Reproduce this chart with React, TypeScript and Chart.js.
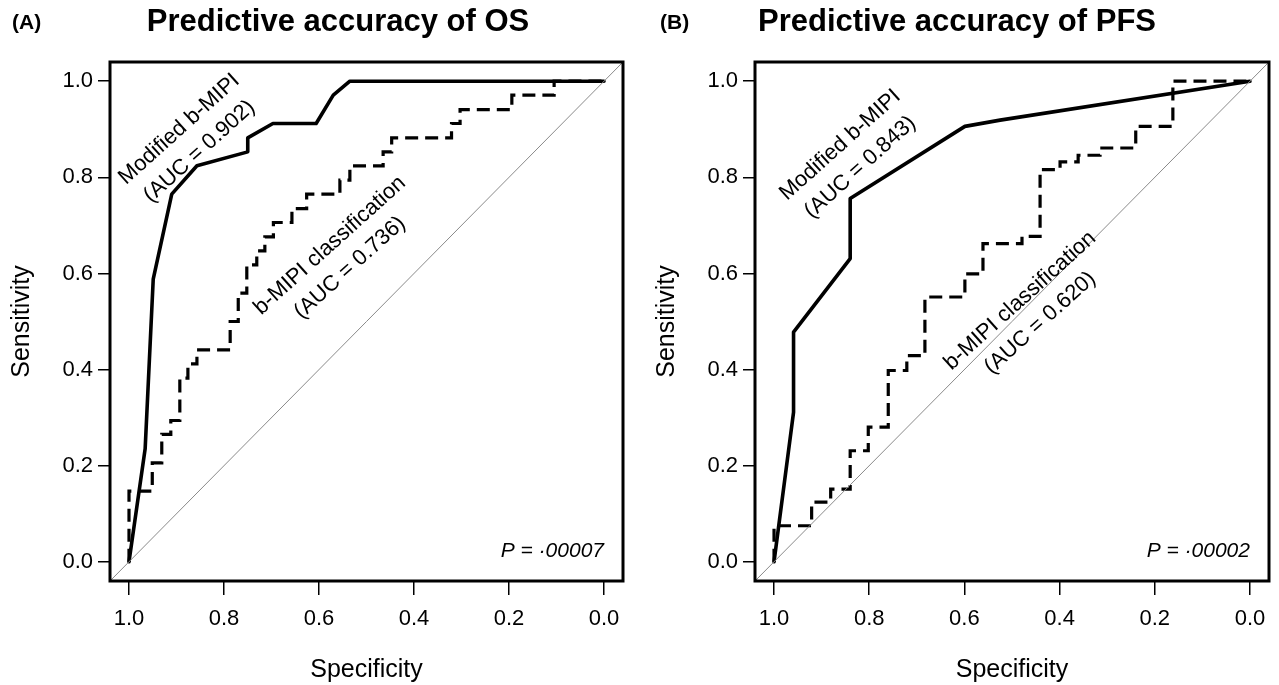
import React, { useEffect, useRef } from "react";
import { Chart, registerables } from "chart.js";

Chart.register(...registerables);

// ---- Axis ticks ----
const TICK_VALUES = [0, 0.2, 0.4, 0.6, 0.8, 1.0];
const TICK_LABELS = ["0.0", "0.2", "0.4", "0.6", "0.8", "1.0"];

// ---- Panel A: OS ----
const A_MOD_SPEC = [1.0, 0.966, 0.949, 0.910, 0.857, 0.750, 0.750, 0.697, 0.606, 0.570, 0.535, 0.0];
const A_MOD_SENS = [0.0, 0.235, 0.588, 0.765, 0.824, 0.853, 0.882, 0.912, 0.912, 0.971, 1.0, 1.0];

const A_CLS_SPEC = [
  1.0, 1.0, 0.951, 0.951, 0.931, 0.931, 0.912, 0.912, 0.893, 0.893, 0.876, 0.876,
  0.857, 0.857, 0.787, 0.787, 0.770, 0.770, 0.752, 0.752, 0.731, 0.731, 0.714, 0.714,
  0.696, 0.696, 0.657, 0.657, 0.626, 0.626, 0.556, 0.556, 0.535, 0.535, 0.465, 0.465,
  0.447, 0.447, 0.321, 0.321, 0.303, 0.303, 0.194, 0.194, 0.105, 0.105, 0.0,
];
const A_CLS_SENS = [
  0.0, 0.147, 0.147, 0.206, 0.206, 0.265, 0.265, 0.294, 0.294, 0.382, 0.382, 0.412,
  0.412, 0.441, 0.441, 0.500, 0.500, 0.559, 0.559, 0.618, 0.618, 0.647, 0.647, 0.676,
  0.676, 0.706, 0.706, 0.735, 0.735, 0.765, 0.765, 0.794, 0.794, 0.824, 0.824, 0.853,
  0.853, 0.882, 0.882, 0.912, 0.912, 0.941, 0.941, 0.971, 0.971, 1.0, 1.0,
];

// ---- Panel B: PFS ----
const B_MOD_SPEC = [1.0, 0.959, 0.959, 0.840, 0.840, 0.599, 0.525, 0.0];
const B_MOD_SENS = [0.0, 0.311, 0.478, 0.631, 0.756, 0.906, 0.919, 1.0];

const B_CLS_SPEC = [
  1.0, 1.0, 0.921, 0.921, 0.881, 0.881, 0.840, 0.840, 0.802, 0.802, 0.760, 0.760,
  0.721, 0.721, 0.683, 0.683, 0.599, 0.599, 0.561, 0.561, 0.479, 0.479, 0.441, 0.441,
  0.399, 0.399, 0.361, 0.361, 0.315, 0.315, 0.240, 0.240, 0.162, 0.162, 0.0,
];
const B_CLS_SENS = [
  0.0, 0.075, 0.075, 0.124, 0.124, 0.151, 0.151, 0.231, 0.231, 0.280, 0.280, 0.398,
  0.398, 0.429, 0.429, 0.551, 0.551, 0.599, 0.599, 0.662, 0.662, 0.677, 0.677, 0.816,
  0.816, 0.832, 0.832, 0.846, 0.846, 0.861, 0.861, 0.906, 0.906, 1.0, 1.0,
];

// chance line (corner to corner of the plot region)
const CHANCE_SPEC = [1.04, -0.04];
const CHANCE_SENS = [-0.04, 1.04];

const FONT = "'Liberation Sans', Arial, Helvetica, sans-serif";

type Label = { lines: string[]; spec: number; sens: number };
type Panel = {
  letter: string;
  title: string;
  modSpec: number[];
  modSens: number[];
  clsSpec: number[];
  clsSens: number[];
  modLabel: Label;
  clsLabel: Label;
  pText: string;
  // layout
  left: number;
  width: number;
  yAxisWidth: number;
  padRight: number;
  yTitlePad: number;
  titleX: number;
  letterX: number;
};

const PANELS: Panel[] = [
  {
    letter: "(A)",
    title: "Predictive accuracy of OS",
    modSpec: A_MOD_SPEC,
    modSens: A_MOD_SENS,
    clsSpec: A_CLS_SPEC,
    clsSens: A_CLS_SENS,
    modLabel: { lines: ["Modified b-MIPI", "(AUC = 0.902)"], spec: 0.873, sens: 0.877 },
    clsLabel: { lines: ["b-MIPI classification", "(AUC = 0.736)"], spec: 0.556, sens: 0.635 },
    pText: "P = \u00B700007",
    left: 0,
    width: 640,
    yAxisWidth: 110,
    padRight: 17,
    yTitlePad: 7,
    titleX: 338,
    letterX: 12,
  },
  {
    letter: "(B)",
    title: "Predictive accuracy of PFS",
    modSpec: B_MOD_SPEC,
    modSens: B_MOD_SENS,
    clsSpec: B_CLS_SPEC,
    clsSens: B_CLS_SENS,
    modLabel: { lines: ["Modified b-MIPI", "(AUC = 0.843)"], spec: 0.84, sens: 0.844 },
    clsLabel: { lines: ["b-MIPI classification", "(AUC = 0.620)"], spec: 0.462, sens: 0.52 },
    pText: "P = \u00B700002",
    left: 640,
    width: 639,
    yAxisWidth: 115,
    padRight: 10,
    yTitlePad: 12,
    titleX: 317,
    letterX: 20,
  },
];

const HEIGHT = 685;

function toPoints(xs: number[], ys: number[]) {
  return xs.map((x, i) => ({ x, y: ys[i] }));
}

function makeDecor(p: Panel) {
  return {
    id: "decor" + p.letter,
    afterDraw(chart: any) {
      const { ctx, chartArea: ca, scales } = chart;
      const x = scales.x;
      const y = scales.y;
      ctx.save();
      // frame
      ctx.lineWidth = 3;
      ctx.strokeStyle = "#000";
      ctx.strokeRect(ca.left, ca.top, ca.right - ca.left, ca.bottom - ca.top);
      // title and panel letter
      ctx.fillStyle = "#000";
      ctx.textBaseline = "alphabetic";
      ctx.font = `bold 31px ${FONT}`;
      ctx.textAlign = "center";
      ctx.fillText(p.title, p.titleX, 31);
      ctx.font = `bold 21px ${FONT}`;
      ctx.textAlign = "left";
      ctx.fillText(p.letter, p.letterX, 29);
      // curve labels
      for (const lab of [p.modLabel, p.clsLabel]) {
        const px = x.getPixelForValue(lab.spec);
        const py = y.getPixelForValue(lab.sens);
        ctx.save();
        ctx.translate(px, py);
        ctx.rotate((-42 * Math.PI) / 180);
        ctx.font = `22px ${FONT}`;
        ctx.textAlign = "center";
        ctx.textBaseline = "middle";
        const n = lab.lines.length;
        lab.lines.forEach((t, i) => ctx.fillText(t, 0, (i - (n - 1) / 2) * 30));
        ctx.restore();
      }
      // p value
      ctx.font = `italic 21px ${FONT}`;
      ctx.textAlign = "right";
      ctx.textBaseline = "alphabetic";
      ctx.fillText(p.pText, x.getPixelForValue(0), y.getPixelForValue(0.01));
      ctx.restore();
    },
  };
}

function PanelChart({ p }: { p: Panel }) {
  const ref = useRef<HTMLCanvasElement | null>(null);
  useEffect(() => {
    if (!ref.current) return;
    const tickFont = { family: FONT, size: 22 };
    const grid = {
      display: true,
      drawOnChartArea: false,
      drawTicks: true,
      color: "#000",
      lineWidth: 1.5,
    };
    const chart = new Chart(ref.current, {
      type: "scatter",
      data: {
        datasets: [
          {
            label: "chance",
            data: toPoints(CHANCE_SPEC, CHANCE_SENS),
            showLine: true,
            borderColor: "#8a8a8a",
            borderWidth: 1,
            pointRadius: 0,
          },
          {
            label: "b-MIPI classification",
            data: toPoints(p.clsSpec, p.clsSens),
            showLine: true,
            borderColor: "#000",
            borderWidth: 3.2,
            borderDash: [13, 7],
            borderJoinStyle: "miter",
            pointRadius: 0,
          },
          {
            label: "Modified b-MIPI",
            data: toPoints(p.modSpec, p.modSens),
            showLine: true,
            borderColor: "#000",
            borderWidth: 3.6,
            borderJoinStyle: "round",
            borderCapStyle: "round",
            pointRadius: 0,
          },
        ],
      } as any,
      options: {
        animation: false,
        responsive: false,
        layout: { padding: { top: 62, left: 0, right: p.padRight, bottom: 0 } },
        plugins: { legend: { display: false }, tooltip: { enabled: false } },
        scales: {
          x: {
            type: "linear",
            reverse: true,
            min: -0.04,
            max: 1.04,
            afterBuildTicks: (s: any) => {
              s.ticks = TICK_VALUES.map((v) => ({ value: v }));
            },
            afterFit: (s: any) => {
              s.height = 104;
            },
            grid: { ...grid, tickLength: 14 },
            border: { display: false },
            ticks: {
              autoSkip: false,
              maxRotation: 0,
              minRotation: 0,
              padding: 11,
              color: "#000",
              font: tickFont,
              callback: (_v: any, i: number) => TICK_LABELS[i],
            },
            title: {
              display: true,
              text: "Specificity",
              color: "#000",
              font: { family: FONT, size: 25 },
              padding: { top: 0, bottom: 0 },
            },
          },
          y: {
            type: "linear",
            min: -0.04,
            max: 1.04,
            afterBuildTicks: (s: any) => {
              s.ticks = TICK_VALUES.map((v) => ({ value: v }));
            },
            afterFit: (s: any) => {
              s.width = p.yAxisWidth;
            },
            grid: { ...grid, tickLength: 12 },
            border: { display: false },
            ticks: {
              autoSkip: false,
              padding: 5,
              color: "#000",
              font: tickFont,
              callback: (_v: any, i: number) => TICK_LABELS[i],
            },
            title: {
              display: true,
              text: "Sensitivity",
              color: "#000",
              font: { family: FONT, size: 25 },
              padding: { top: p.yTitlePad, bottom: 0 },
            },
          },
        },
      } as any,
      plugins: [makeDecor(p)],
    });
    return () => chart.destroy();
  }, [p]);
  return (
    <canvas
      ref={ref}
      width={p.width}
      height={HEIGHT}
      style={{ position: "absolute", left: p.left, top: 0, width: p.width, height: HEIGHT }}
    />
  );
}

export default function App() {
  return (
    <div
      style={{
        position: "fixed",
        left: 0,
        top: 0,
        width: 1279,
        height: HEIGHT,
        background: "#fff",
        overflow: "hidden",
      }}
    >
      {PANELS.map((p) => (
        <PanelChart key={p.letter} p={p} />
      ))}
    </div>
  );
}
